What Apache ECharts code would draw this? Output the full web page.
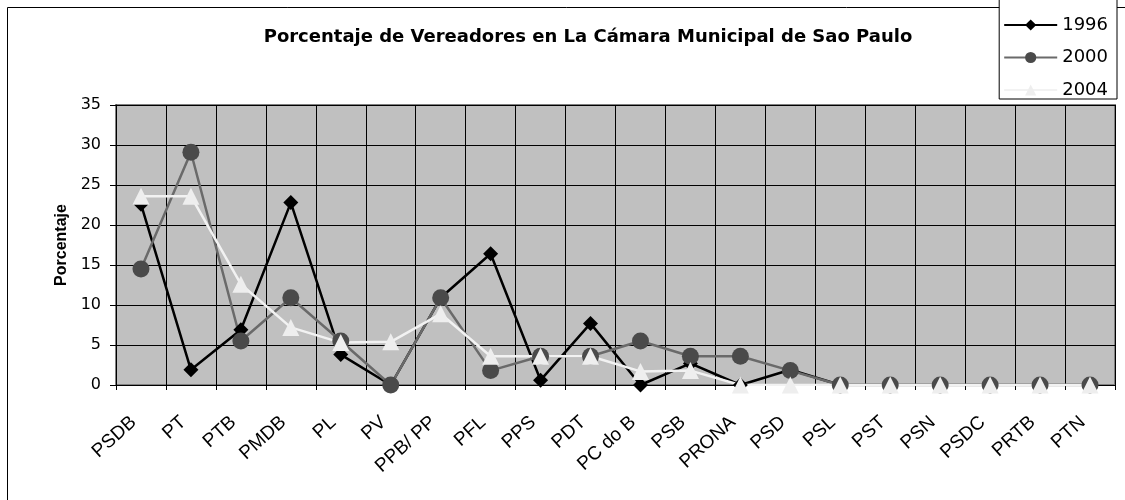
<!DOCTYPE html>
<html>
<head>
<meta charset="utf-8">
<script src="https://cdn.jsdelivr.net/npm/echarts@6/dist/echarts.min.js"></script>
<style>
  html, body { margin: 0; padding: 0; background: #fff; }
  #chart { width: 1125px; height: 500px; }
</style>
</head>
<body>
<div id="chart"></div>
<script>
// partidos (eje X)
var categories = ['PSDB', 'PT', 'PTB', 'PMDB', 'PL', 'PV', 'PPB/ PP', 'PFL', 'PPS', 'PDT',
  'PC do B', 'PSB', 'PRONA', 'PSD', 'PSL', 'PST', 'PSN', 'PSDC', 'PRTB', 'PTN'];

// porcentaje de vereadores por año
var v1996 = [22.6, 1.9, 6.9, 22.8, 3.8, 0, 10.9, 16.4, 0.6, 7.7, 0, 2.7, 0, 1.9, 0, 0, 0, 0, 0, 0];
var v2000 = [14.5, 29.1, 5.5, 10.9, 5.5, 0, 10.9, 1.8, 3.6, 3.6, 5.5, 3.6, 3.6, 1.8, 0, 0, 0, 0, 0, 0];
var v2004 = [23.6, 23.6, 12.6, 7.2, 5.3, 5.4, 8.9, 3.6, 3.6, 3.6, 1.7, 1.8, 0, 0, 0, 0, 0, 0, 0, 0];

var yTicks = [0, 5, 10, 15, 20, 25, 30, 35];

var font = 'Liberation Sans, Arial, sans-serif';
var wide = 'DejaVu Sans, sans-serif';
var chart = echarts.init(document.getElementById('chart'));

var option = {
  animation: false,
  backgroundColor: '#fff',
  textStyle: { fontFamily: font, color: '#000' },
  title: {
    text: 'Porcentaje de Vereadores en La Cámara Municipal de Sao Paulo',
    left: 583,
    textAlign: 'center',
    top: 23,
    textStyle: { fontFamily: wide, fontSize: 18, fontWeight: 'bold', color: '#000' }
  },
  graphic: [{
    type: 'rect',
    z: 0,
    shape: { x: 7.5, y: 7.5, width: 1200, height: 600 },
    style: { fill: null, stroke: '#000', lineWidth: 1 }
  }],
  legend: {
    orient: 'vertical',
    right: 8,
    top: -8,
    padding: [24, 9, 0, 4],
    itemWidth: 53,
    itemHeight: 14,
    itemGap: 14.5,
    backgroundColor: '#fff',
    borderColor: '#000',
    borderWidth: 1,
    textStyle: { fontFamily: wide, fontSize: 18, color: '#000' },
    data: ['1996', '2000', '2004']
  },
  grid: {
    left: 116,
    right: 10,
    top: 105,
    bottom: 115,
    show: true,
    backgroundColor: '#c0c0c0',
    borderColor: '#808080',
    borderWidth: 2
  },
  xAxis: {
    type: 'category',
    data: categories,
    boundaryGap: true,
    axisLine: { show: true, lineStyle: { color: '#000', width: 1 } },
    axisTick: { show: true, length: 5, lineStyle: { color: '#000' } },
    splitLine: { show: true, lineStyle: { color: '#000', width: 1 } },
    axisLabel: {
      interval: 0, rotate: 42, fontSize: 19, color: '#000',
      margin: 28, padding: [0, 10, 0, 0], fontFamily: font
    }
  },
  yAxis: {
    type: 'value',
    min: yTicks[0],
    max: yTicks[yTicks.length - 1],
    interval: 5,
    name: 'Porcentaje',
    nameLocation: 'middle',
    nameRotate: 90,
    nameGap: 39,
    nameTextStyle: { fontFamily: font, fontSize: 16, fontWeight: 'bold', color: '#000' },
    axisLine: { show: true, lineStyle: { color: '#000', width: 1 } },
    axisTick: { show: true, length: 6, lineStyle: { color: '#000' } },
    splitLine: { show: true, lineStyle: { color: '#000', width: 1 } },
    axisLabel: { fontSize: 16, color: '#000', margin: 15, fontFamily: wide }
  },
  series: [
    {
      name: '1996', type: 'line', data: v1996,
      symbol: 'diamond', symbolSize: 15,
      lineStyle: { color: '#000', width: 2.5 },
      itemStyle: { color: '#000' }
    },
    {
      name: '2000', type: 'line', data: v2000,
      symbol: 'circle', symbolSize: 17,
      lineStyle: { color: '#6a6a6a', width: 2.5 },
      itemStyle: { color: '#4a4a4a' }
    },
    {
      name: '2004', type: 'line', data: v2004,
      symbol: 'triangle', symbolSize: 17,
      lineStyle: { color: '#f2f2f2', width: 2.5 },
      itemStyle: { color: '#eeeeee' }
    }
  ]
};

chart.setOption(option);
</script>
</body>
</html>
